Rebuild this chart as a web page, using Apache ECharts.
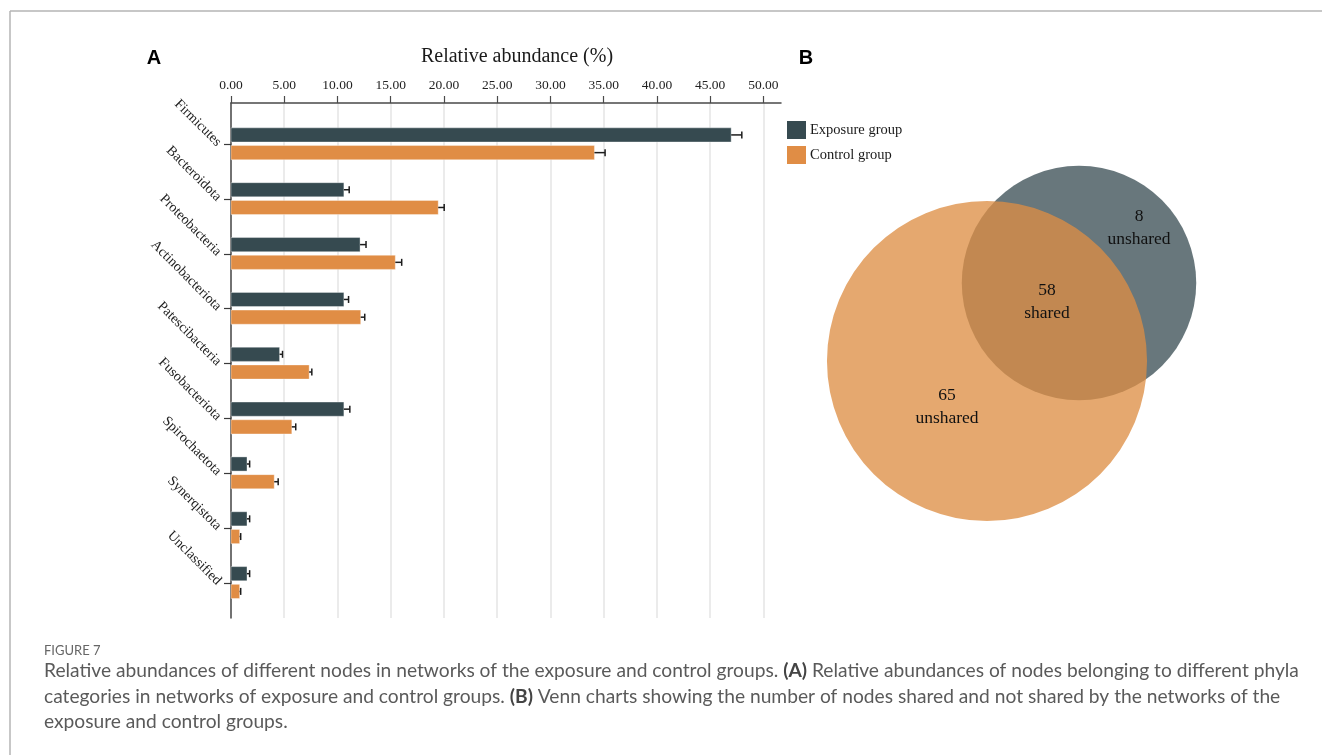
<!DOCTYPE html>
<html>
<head>
<meta charset="utf-8">
<script src="https://cdn.jsdelivr.net/npm/echarts@6/dist/echarts.min.js"></script>
<style>
  html, body { margin: 0; padding: 0; background: #ffffff; }
  #chart { width: 1322px; height: 755px; }
</style>
</head>
<body>
<div id="chart"></div>
<script>
// Phylum categories (top to bottom)
const categories = ['Firmicutes', 'Bacteroidota', 'Proteobacteria', 'Actinobacteriota',
  'Patescibacteria', 'Fusobacteriota', 'Spirochaetota', 'Synerqistota', 'Unclassified'];

// Relative abundance (%) and error for each group
const exposure    = [46.97, 10.60, 12.12, 10.60, 4.56, 10.60, 1.50, 1.50, 1.50];
const exposureErr = [1.00, 0.50, 0.56, 0.44, 0.28, 0.56, 0.25, 0.25, 0.25];
const control     = [34.13, 19.46, 15.43, 12.18, 7.34, 5.71, 4.06, 0.81, 0.81];
const controlErr  = [1.00, 0.56, 0.60, 0.38, 0.25, 0.37, 0.37, 0.10, 0.10];

// Abundance axis ticks
const xTicks = [0, 5, 10, 15, 20, 25, 30, 35, 40, 45, 50];

// Venn node counts
const controlOnly = 65;
const sharedNodes = 58;
const exposureOnly = 8;

const COLOR_EXP = '#364a50';
const COLOR_CTL = '#e08d45';
const SERIF = '"Liberation Serif", "DejaVu Serif", serif';

// --- bar + error bar renderer (horizontal, offset within a category band)
const BAR_FRAC = 0.258;
function barRenderer(offsetFrac) {
  return function (params, api) {
    const idx = api.value(0), val = api.value(1), err = api.value(2);
    const band = api.size([0, 1])[1];
    const base = api.coord([0, idx]);
    const end = api.coord([val, idx]);
    const tip = api.coord([val + err, idx]);
    const cy = base[1] + offsetFrac * band;
    const h = BAR_FRAC * band;
    const errStyle = { stroke: '#1c1c1c', lineWidth: 1.5 };
    return {
      type: 'group',
      children: [
        { type: 'rect', shape: { x: base[0], y: cy - h / 2, width: end[0] - base[0], height: h },
          style: { fill: api.visual('color'), stroke: 'rgba(255,255,255,0.6)', lineWidth: 0.6 } },
        { type: 'line', shape: { x1: end[0], y1: cy, x2: tip[0], y2: cy }, style: errStyle },
        { type: 'line', shape: { x1: tip[0], y1: cy - 3.5, x2: tip[0], y2: cy + 3.5 }, style: errStyle }
      ]
    };
  };
}

// --- Venn: circle area proportional to set size
const VENN_K = 14.43;
const vennCircles = [
  // [centre x, centre y, set size] in the Venn panel's axis units
  [279, 133, exposureOnly + sharedNodes],
  [187, 211, controlOnly + sharedNodes]
];
const vennFills = ['rgba(54,74,80,0.75)', 'rgba(221,142,68,0.77)'];
const vennLabels = [
  [339, 78, exposureOnly, 'unshared'],
  [247, 152, sharedNodes, 'shared'],
  [147, 257, controlOnly, 'unshared']
];

const CAPTION_FONT = 'Lato, "Noto Sans", sans-serif';
const capSize = 19.2;

const chart = echarts.init(document.getElementById('chart'), null, { renderer: 'canvas' });

const option = {
  backgroundColor: '#ffffff',
  animation: false,
  legend: {
    orient: 'vertical',
    left: 787,
    top: 121,
    padding: 0,
    itemWidth: 19,
    itemHeight: 18,
    itemGap: 7,
    icon: 'rect',
    data: ['Exposure group', 'Control group'],
    textStyle: { fontFamily: SERIF, fontSize: 14.5, color: '#1a1a1a', padding: [0, 0, 0, -1] }
  },
  grid: [
    { left: 231, top: 103, width: 550, height: 515 },
    { left: 800, top: 150, width: 420, height: 400 }
  ],
  xAxis: [
    {
      gridIndex: 0, type: 'value', position: 'top', min: 0, max: 51.65,
      axisLine: { show: true, onZero: false, lineStyle: { color: '#4a4a4a', width: 1.5 } },
      axisTick: { show: true, length: 7, customValues: xTicks, lineStyle: { color: '#4a4a4a', width: 1.2 } },
      axisLabel: { customValues: xTicks, formatter: v => v.toFixed(2), fontFamily: SERIF,
        fontSize: 13.5, color: '#222', margin: 11 },
      splitLine: { show: true, lineStyle: { color: '#e4e4e4', width: 1.5 } }
    },
    { gridIndex: 1, type: 'value', min: 0, max: 420, show: false }
  ],
  yAxis: [
    {
      gridIndex: 0, type: 'value', inverse: true, min: -0.75, max: 8.64,
      axisLine: { show: true, onZero: false, lineStyle: { color: '#4a4a4a', width: 1.5 } },
      axisTick: { show: true, length: 7, customValues: [0, 1, 2, 3, 4, 5, 6, 7, 8],
        lineStyle: { color: '#3a3a3a', width: 1.2 } },
      axisLabel: { customValues: [0, 1, 2, 3, 4, 5, 6, 7, 8],
        formatter: v => categories[Math.round(v)], rotate: -45, margin: 12,
        fontFamily: SERIF, fontSize: 14, color: '#222' },
      splitLine: { show: false }
    },
    { gridIndex: 1, type: 'value', min: 0, max: 400, inverse: true, show: false }
  ],
  series: [
    {
      name: 'Exposure group', type: 'custom', xAxisIndex: 0, yAxisIndex: 0,
      itemStyle: { color: COLOR_EXP },
      encode: { x: 1, y: 0 },
      renderItem: barRenderer(-0.168),
      data: categories.map((c, i) => [i, exposure[i], exposureErr[i]])
    },
    {
      name: 'Control group', type: 'custom', xAxisIndex: 0, yAxisIndex: 0,
      itemStyle: { color: COLOR_CTL },
      encode: { x: 1, y: 0 },
      renderItem: barRenderer(0.155),
      data: categories.map((c, i) => [i, control[i], controlErr[i]])
    },
    {
      name: 'venn', type: 'custom', xAxisIndex: 1, yAxisIndex: 1, silent: true,
      encode: { x: 0, y: 1 },
      renderItem: function (params, api) {
        const c = api.coord([api.value(0), api.value(1)]);
        const r = api.size([VENN_K * Math.sqrt(api.value(2)), 0])[0];
        return { type: 'circle', shape: { cx: c[0], cy: c[1], r: r },
          style: { fill: vennFills[params.dataIndex] } };
      },
      data: vennCircles
    },
    {
      name: 'venn-labels', type: 'custom', xAxisIndex: 1, yAxisIndex: 1, silent: true,
      encode: { x: 0, y: 1 },
      renderItem: function (params, api) {
        const c = api.coord([api.value(0), api.value(1)]);
        const lab = vennLabels[params.dataIndex];
        return { type: 'text', x: c[0], y: c[1], z2: 10,
          style: { text: lab[2] + '\n' + lab[3], textAlign: 'center', textVerticalAlign: 'middle',
            fontFamily: SERIF, fontSize: 17.5, lineHeight: 23, fill: '#111' } };
      },
      data: vennLabels.map(l => [l[0], l[1]])
    }
  ],
  graphic: [
    // figure frame
    { type: 'line', shape: { x1: 10, y1: 11, x2: 1322, y2: 11 }, style: { stroke: '#b4b4b4', lineWidth: 1.5 } },
    { type: 'line', shape: { x1: 10, y1: 11, x2: 10, y2: 755 }, style: { stroke: '#b4b4b4', lineWidth: 1.5 } },
    // panel letters
    { type: 'text', x: 154, y: 58, style: { text: 'A', textAlign: 'center', textVerticalAlign: 'middle',
      font: 'bold 20px "Liberation Sans", Arial, sans-serif', fill: '#000' } },
    { type: 'text', x: 806, y: 58, style: { text: 'B', textAlign: 'center', textVerticalAlign: 'middle',
      font: 'bold 20px "Liberation Sans", Arial, sans-serif', fill: '#000' } },
    // axis title
    { type: 'text', x: 517, y: 57, style: { text: 'Relative abundance (%)', textAlign: 'center',
      textVerticalAlign: 'middle', font: '20px ' + SERIF, fill: '#1a1a1a' } },
    // caption
    { type: 'text', x: 44, y: 651, style: { text: 'FIGURE 7', textVerticalAlign: 'middle',
      font: '13px ' + CAPTION_FONT, fill: '#666' } },
    { type: 'text', x: 44, y: 671, style: {
      text: 'Relative abundances of different nodes in networks of the exposure and control groups. {b|(A)} Relative abundances of nodes belonging to different phyla',
      textVerticalAlign: 'middle', fontFamily: CAPTION_FONT, fontSize: capSize, fill: '#5a5a5a',
      rich: { b: { fontFamily: CAPTION_FONT, fontSize: capSize, fontWeight: 'bold', fill: '#444' } } } },
    { type: 'text', x: 44, y: 697, style: {
      text: 'categories in networks of exposure and control groups. {b|(B)} Venn charts showing the number of nodes shared and not shared by the networks of the',
      textVerticalAlign: 'middle', fontFamily: CAPTION_FONT, fontSize: capSize, fill: '#5a5a5a',
      rich: { b: { fontFamily: CAPTION_FONT, fontSize: capSize, fontWeight: 'bold', fill: '#444' } } } },
    { type: 'text', x: 44, y: 722, style: {
      text: 'exposure and control groups.',
      textVerticalAlign: 'middle', fontFamily: CAPTION_FONT, fontSize: capSize, fill: '#5a5a5a' } }
  ]
};

chart.setOption(option);
</script>
</body>
</html>
